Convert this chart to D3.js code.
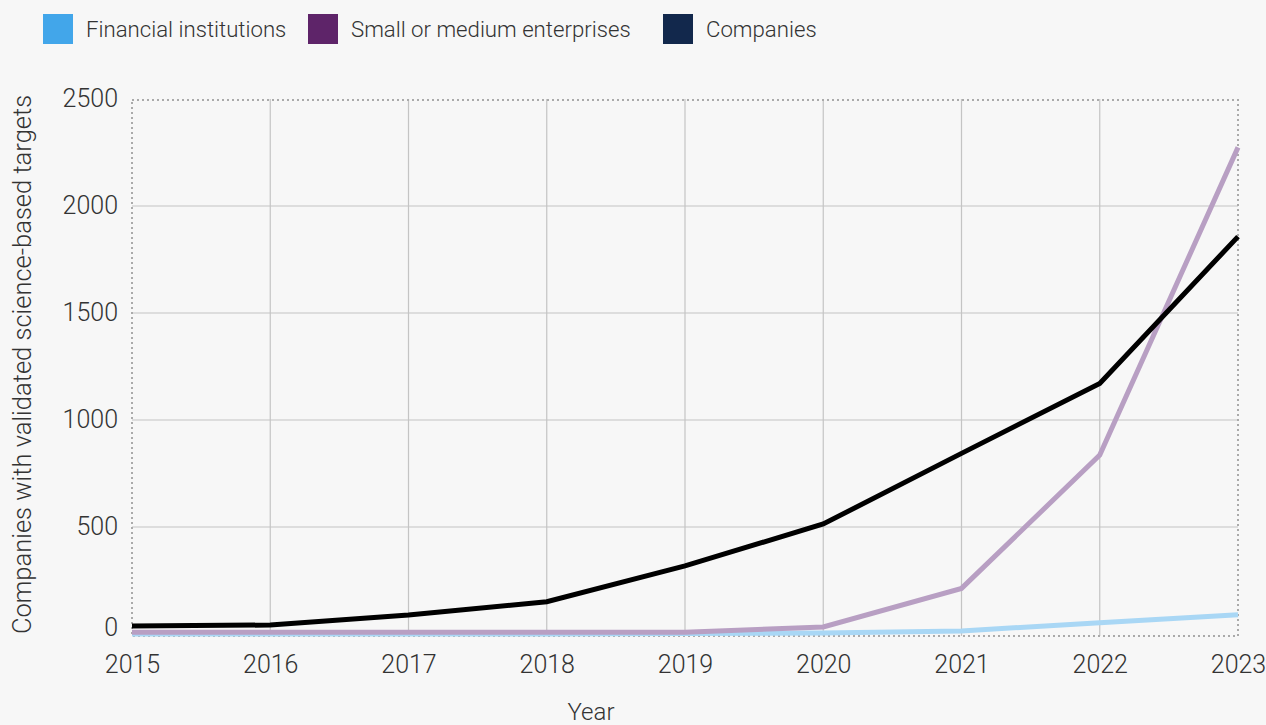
<!DOCTYPE html>
<html>
<head>
<meta charset="utf-8">
<script src="https://cdn.jsdelivr.net/npm/d3@7/dist/d3.min.js"></script>
<style>
  html, body { margin: 0; padding: 0; background: #f7f7f7; }
  svg { display: block; font-family: Roboto, "Liberation Sans", sans-serif; font-weight: 300; }
</style>
</head>
<body>
<svg id="chart" width="1266" height="725"></svg>
<script>
// Validated science-based targets per year
const years = [2015, 2016, 2017, 2018, 2019, 2020, 2021, 2022, 2023];
const financialInstitutions = [0, 0, 0, 0, 2, 5, 14, 53, 90];
const smallMediumEnterprises = [8, 8, 8, 8, 8, 33, 213, 836, 2274];
const companies = [37, 42, 89, 151, 318, 514, 844, 1171, 1857];
const yTicks = [0, 500, 1000, 1500, 2000, 2500];

const seriesNames = ["Financial institutions", "Small or medium enterprises", "Companies"];
const legendColors = ["#42a6ea", "#5e2469", "#12284c"];
const lineColors = ["#a9d7f5", "#b89fc3", "#000000"];
const seriesValues = [financialInstitutions, smallMediumEnterprises, companies];

const svg = d3.select("#chart");
const W = 1266, H = 725;
const m = { left: 132, right: 28, top: 99, bottom: 91 };

const x = d3.scaleLinear().domain([2015, 2023]).range([m.left, W - m.right]);
const y = d3.scaleLinear().domain([0, 2500]).range([H - m.bottom, m.top]);

// grid
const g = svg.append("g");
g.selectAll("line.v").data(years.slice(1, -1)).join("line")
  .attr("x1", d => x(d)).attr("x2", d => x(d))
  .attr("y1", y(2500)).attr("y2", y(0) + 2)
  .attr("stroke", "#c4c4c4").attr("stroke-width", 1.2);
g.selectAll("line.h").data(yTicks.slice(1, -1)).join("line")
  .attr("x1", x(2015)).attr("x2", x(2023))
  .attr("y1", d => y(d)).attr("y2", d => y(d))
  .attr("stroke", "#c4c4c4").attr("stroke-width", 1.2);

// dotted plot frame
svg.append("rect")
  .attr("x", x(2015)).attr("y", y(2500) + 1)
  .attr("width", x(2023) - x(2015)).attr("height", y(0) - y(2500) + 1)
  .attr("fill", "none").attr("stroke", "#aaaaaa").attr("stroke-width", 2)
  .attr("stroke-dasharray", "2,3");

// axes
const yAxis = d3.axisLeft(y).tickValues(yTicks).tickFormat(d3.format("d")).tickSize(0).tickPadding(0);
svg.append("g").attr("transform", `translate(${m.left - 14},0)`).call(yAxis)
  .call(a => a.select(".domain").remove())
  .selectAll("text").attr("font-size", 25).attr("fill", "#333")
  .attr("font-family", "Roboto, sans-serif").attr("font-weight", 300)
  .attr("dy", d => d === 0 ? "0.06em" : "0.3em");

const xAxis = d3.axisBottom(x).tickValues(years).tickFormat(d3.format("d")).tickSize(0).tickPadding(0);
svg.append("g").attr("transform", `translate(0,${y(0) + 39})`).call(xAxis)
  .call(a => a.select(".domain").remove())
  .selectAll("text").attr("font-size", 25).attr("fill", "#333")
  .attr("font-family", "Roboto, sans-serif").attr("font-weight", 300)
  .attr("dy", "0");

// axis titles
svg.append("text")
  .attr("transform", `translate(31,${(y(0) + y(2500)) / 2 - 2}) rotate(-90)`)
  .attr("text-anchor", "middle").attr("font-size", 25.5).attr("fill", "#333")
  .text("Companies with validated science-based targets");
svg.append("text")
  .attr("x", 591).attr("y", 720)
  .attr("text-anchor", "middle").attr("font-size", 24).attr("fill", "#333")
  .text("Year");

// lines
const line = d3.line().x((d, i) => x(years[i])).y(d => y(d));
seriesValues.forEach((vals, k) => {
  svg.append("path")
    .datum(vals)
    .attr("d", line)
    .attr("fill", "none")
    .attr("stroke", lineColors[k])
    .attr("stroke-width", 5)
    .attr("stroke-linejoin", "miter");
});

// legend
const legendX = [43, 308, 663];
const lg = svg.append("g");
seriesNames.forEach((name, k) => {
  lg.append("rect").attr("x", legendX[k]).attr("y", 14).attr("width", 30).attr("height", 30)
    .attr("fill", legendColors[k]);
  lg.append("text").attr("x", legendX[k] + 43).attr("y", 37)
    .attr("font-size", 22.2).attr("fill", "#333").text(name);
});
</script>
</body>
</html>
